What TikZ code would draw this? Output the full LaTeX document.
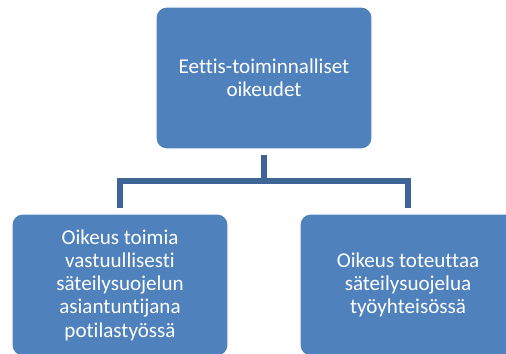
\documentclass[tikz,border=0pt]{standalone}
\usepackage{fontspec}
\setmainfont[Ligatures={NoCommon}]{Carlito}
\usetikzlibrary{positioning}
\definecolor{boxblue}{RGB}{79,129,189}
\definecolor{linkblue}{RGB}{63,101,151}
\tikzset{
    box/.style={draw=white, line width=0.6pt, fill=boxblue, rounded corners=6pt,
        minimum width=216*0.02cm, minimum height=142*0.02cm,
        align=center, text=white, font=\fontsize{12}{13.2}\selectfont, inner sep=0pt},
    link/.style={draw=linkblue, line width=2.9pt, line join=miter}
}
\begin{document}
\begin{tikzpicture}[x=0.02cm, y=-0.02cm]
            \clip (0,0) rectangle (506,354);
            \useasboundingbox (0,0) rectangle (506,354);
            \node[box] (top) at (264,78) {Eettis-toiminnalliset\\oikeudet};
            \node[box] (left) at (120,285) {Oikeus toimia\\vastuullisesti\\säteilysuojelun\\asiantuntijana\\potilastyössä};
            \node[box] (right) at (408,285) {Oikeus toteuttaa\\säteilysuojelua\\työyhteisössä};
            \coordinate (bus) at (264,181);
            \draw[link, shorten <=3pt] (top.south) -- (bus);
            \draw[link, shorten <=3pt, shorten >=3pt] (left.north) |- (bus) -| (right.north);
        \end{tikzpicture}
\end{document}
